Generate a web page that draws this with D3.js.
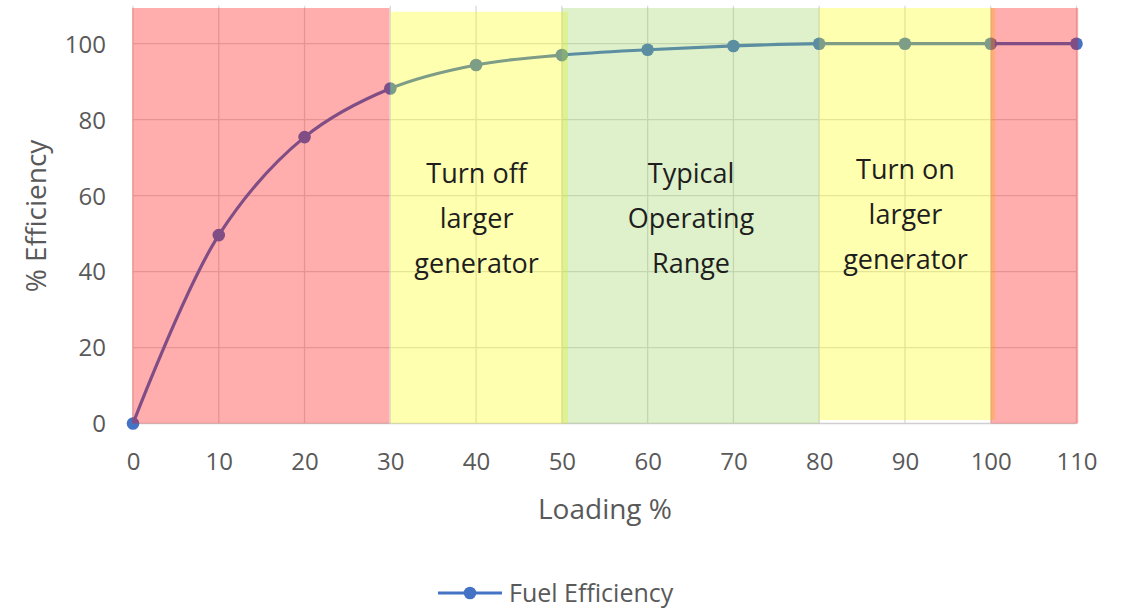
<!DOCTYPE html>
<html>
<head>
<meta charset="utf-8">
<script src="https://cdn.jsdelivr.net/npm/d3@7"></script>
<style>
  html, body { margin: 0; padding: 0; background: #ffffff; }
  svg { display: block; font-family: "Open Sans", "Noto Sans", sans-serif; }
</style>
</head>
<body>
<svg id="chart" width="1122" height="608"></svg>
<script>
// Fuel efficiency (%) against generator loading (%)
const loading = [0, 10, 20, 30, 40, 50, 60, 70, 80, 90, 100, 110];
const efficiency = [0, 49.6, 75.4, 88.2, 94.4, 97, 98.4, 99.4, 100, 100, 100, 100];

const xTicks = [0, 10, 20, 30, 40, 50, 60, 70, 80, 90, 100, 110];
const yTicks = [0, 20, 40, 60, 80, 100];

// Operating zones: loading range [from, to] and efficiency span [low, high]
const zoneFrom = [-0.1, 30, 50, 80, 100];
const zoneTo = [29.9, 50.7, 80, 100.5, 110.2];
const zoneLow = [0, 0, 0, 0.9, 0];
const zoneHigh = [109.4, 108.4, 109.4, 109.4, 109.4];
const zoneKind = ["danger", "caution", "ok", "caution", "danger"];

// Zone captions, one entry per caption: centre loading value and its lines
const captionAt = [40, 65, 90];
const captionLines = [
  ["Turn off", "larger", "generator"],
  ["Typical", "Operating", "Range"],
  ["Turn on", "larger", "generator"]
];
const captionShift = [0, 0, -4];

const seriesName = "Fuel Efficiency";

const zoneFill = {
  danger: "rgba(255, 0, 0, 0.32)",
  caution: "rgba(255, 255, 0, 0.31)",
  ok: "rgba(146, 208, 80, 0.3)"
};

const svg = d3.select("#chart");
const x = d3.scaleLinear().domain([0, 110]).range([133, 1076.5]);
const y = d3.scaleLinear().domain([0, 110]).range([423.5, 5.7]);

const textGrey = "#595959";
const gridGrey = "#d9d9d9";
const blue = "#4472c4";

// Gridlines
const grid = svg.append("g");
grid.selectAll("line.h").data(yTicks.filter(d => d > 0)).join("line")
  .attr("x1", x(0)).attr("x2", x(110))
  .attr("y1", d => y(d)).attr("y2", d => y(d))
  .attr("stroke", gridGrey).attr("stroke-width", 1.3);
grid.selectAll("line.v").data(xTicks).join("line")
  .attr("x1", d => x(d)).attr("x2", d => x(d))
  .attr("y1", y(0)).attr("y2", y(110))
  .attr("stroke", gridGrey).attr("stroke-width", 1.3);

// Category axis line
svg.append("line")
  .attr("x1", x(0)).attr("x2", x(110))
  .attr("y1", y(0)).attr("y2", y(0))
  .attr("stroke", "#cfcfcf").attr("stroke-width", 1.5);

// Axis tick labels
const xAxis = d3.axisBottom(x).tickValues(xTicks).tickSize(0).tickPadding(0).tickFormat(d3.format("d"));
const gx = svg.append("g").attr("transform", `translate(0,${y(0)})`).call(xAxis);
gx.select(".domain").remove();
gx.selectAll("text")
  .attr("y", 46.5).attr("dy", null)
  .attr("fill", textGrey).style("font-size", "24px").style("font-family", "Open Sans");

const yAxis = d3.axisLeft(y).tickValues(yTicks).tickSize(0).tickPadding(0).tickFormat(d3.format("d"));
const gy = svg.append("g").attr("transform", `translate(${x(0)},0)`).call(yAxis);
gy.select(".domain").remove();
gy.selectAll("text")
  .attr("x", -27).attr("dy", "0.35em")
  .attr("fill", textGrey).style("font-size", "24px").style("font-family", "Open Sans");

// Axis titles
svg.append("text")
  .attr("x", 605).attr("y", 519)
  .attr("text-anchor", "middle")
  .attr("fill", textGrey).style("font-size", "28px")
  .text("Loading %");
svg.append("text")
  .attr("transform", "translate(46,216) rotate(-90)")
  .attr("text-anchor", "middle")
  .attr("fill", textGrey).style("font-size", "28px")
  .text("% Efficiency");

// Series line and markers
const points = loading.map((l, i) => [l, efficiency[i]]);
const line = d3.line()
  .x(d => x(d[0])).y(d => y(d[1]))
  .curve(d3.curveCatmullRom.alpha(0.5));
svg.append("path")
  .attr("d", line(points))
  .attr("fill", "none").attr("stroke", blue).attr("stroke-width", 3.2)
  .attr("stroke-linejoin", "round");
svg.append("g").selectAll("circle").data(points).join("circle")
  .attr("cx", d => x(d[0])).attr("cy", d => y(d[1]))
  .attr("r", 6.3).attr("fill", blue);

// Translucent zone bands over the plot
svg.append("g").selectAll("rect").data(zoneFrom.map((f, i) => i)).join("rect")
  .attr("x", i => x(zoneFrom[i]))
  .attr("width", i => x(zoneTo[i]) - x(zoneFrom[i]))
  .attr("y", i => y(zoneHigh[i]))
  .attr("height", i => y(zoneLow[i]) - y(zoneHigh[i]))
  .attr("fill", i => zoneFill[zoneKind[i]]);

// Zone captions
const cap = svg.append("g");
captionAt.forEach((c, i) => {
  const t = cap.append("text")
    .attr("text-anchor", "middle")
    .attr("fill", "#1e1e1e")
    .style("font-size", "27px");
  captionLines[i].forEach((s, k) => {
    t.append("tspan")
      .attr("x", x(c) + 0.5)
      .attr("y", 183 + captionShift[i] + k * 45)
      .text(s);
  });
});

// Legend
const lg = svg.append("g");
lg.append("line")
  .attr("x1", 438).attr("x2", 502).attr("y1", 593).attr("y2", 593)
  .attr("stroke", blue).attr("stroke-width", 3.2);
lg.append("circle").attr("cx", 470).attr("cy", 593).attr("r", 6.3).attr("fill", blue);
lg.append("text")
  .attr("x", 509).attr("y", 602)
  .attr("fill", textGrey).style("font-size", "25px")
  .text(seriesName);
</script>
</body>
</html>
